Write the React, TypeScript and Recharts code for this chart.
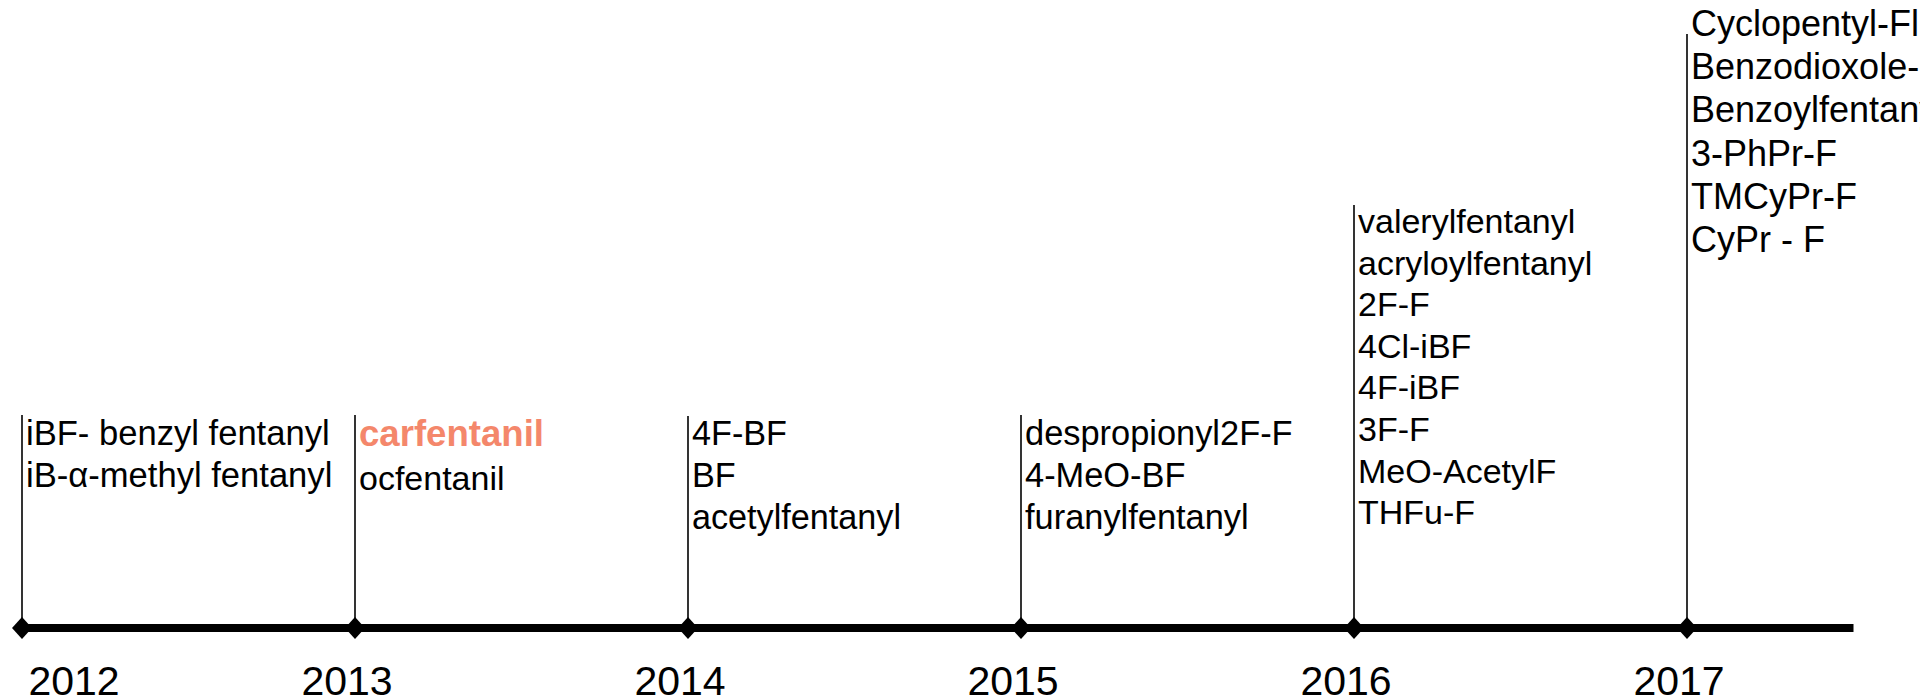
import React from 'react';
import { ComposedChart, XAxis, YAxis, Scatter, ReferenceLine } from 'recharts';

// ---- data ----
const years = [2012, 2013, 2014, 2015, 2016, 2017];
const axisEnd = 2017.5;
// stem heights (in px-units above the timeline)
const stemHeights = [213, 213, 212, 213, 423, 594];
// height of the first label line baseline above the timeline
const labelHeights = [183, 182, 183, 183, 395, 592];

const compounds2012 = ['iBF- benzyl fentanyl', 'iB-\u03B1-methyl fentanyl'];
const compounds2013 = ['carfentanil', 'ocfentanil'];
const compounds2014 = ['4F-BF', 'BF', 'acetylfentanyl'];
const compounds2015 = ['despropionyl2F-F', '4-MeO-BF', 'furanylfentanyl'];
const compounds2016 = [
  'valerylfentanyl',
  'acryloylfentanyl',
  '2F-F',
  '4Cl-iBF',
  '4F-iBF',
  '3F-F',
  'MeO-AcetylF',
  'THFu-F',
];
const compounds2017 = [
  'Cyclopentyl-Fl',
  'Benzodioxole-F',
  'Benzoylfentanyl',
  '3-PhPr-F',
  'TMCyPr-F',
  'CyPr - F',
];
const highlighted = ['carfentanil'];

const compoundsByYear = [
  compounds2012,
  compounds2013,
  compounds2014,
  compounds2015,
  compounds2016,
  compounds2017,
];

// ---- styles ----
const FONT = '"Liberation Sans", Arial, Helvetica, sans-serif';
const labelStyle = [
  { fontSize: 34.6, spacing: 42 },
  { fontSize: 34, spacing: 44 },
  { fontSize: 34.2, spacing: 41.8 },
  { fontSize: 34.4, spacing: 41.8 },
  { fontSize: 34, spacing: 41.6 },
  { fontSize: 36, spacing: 43.2 },
];
const HIGHLIGHT_COLOR = '#F4876B';

const markerData = years.map((yr) => ({ x: yr, y: 0 }));
const labelData = years.map((yr, i) => ({
  x: yr,
  y: labelHeights[i],
  lines: compoundsByYear[i],
  idx: i,
}));

const Diamond = (props: any) => {
  const { cx, cy } = props;
  if (cx == null || cy == null) return null;
  const w = 10;
  const h = 11;
  return (
    <polygon
      points={`${cx - w},${cy} ${cx},${cy - h} ${cx + w},${cy} ${cx},${cy + h}`}
      fill="#000"
    />
  );
};

const LabelBlock = (props: any) => {
  const { cx, cy, payload } = props;
  if (cx == null || cy == null || !payload) return null;
  const st = labelStyle[payload.idx];
  const tx = cx + 4;
  return (
    <text x={tx} y={cy} fontFamily={FONT} fontSize={st.fontSize} fill="#000">
      {payload.lines.map((line: string, i: number) => {
        const hl = highlighted.includes(line);
        return (
          <tspan
            key={i}
            x={tx}
            y={cy + i * st.spacing}
            fill={hl ? HIGHLIGHT_COLOR : '#000'}
            fontWeight={hl ? 'bold' : 'normal'}
            fontSize={hl ? 36.6 : st.fontSize}
          >
            {line}
          </tspan>
        );
      })}
    </text>
  );
};

const YearTick = (props: any) => {
  const { x, y, payload } = props;
  const cx = Math.max(x - 8, 74);
  return (
    <text
      x={cx}
      y={y + 67}
      textAnchor="middle"
      fontFamily={FONT}
      fontSize={41}
      fill="#000"
    >
      {payload.value}
    </text>
  );
};

export default function App() {
  return (
    <div
      style={{
        position: 'absolute',
        left: 0,
        top: 0,
        width: 1920,
        height: 699,
        overflow: 'hidden',
        background: '#fff',
      }}
    >
      <ComposedChart
        width={1920}
        height={699}
        margin={{ top: 0, right: 66.5, bottom: 0, left: 22 }}
      >
        <XAxis
          type="number"
          dataKey="x"
          domain={[2012, axisEnd]}
          ticks={years}
          axisLine={false}
          tickLine={false}
          tickSize={0}
          tickMargin={0}
          height={71}
          interval={0}
          tick={<YearTick />}
        />
        <YAxis type="number" dataKey="y" domain={[0, 628]} hide />
        {years.map((yr, i) => (
          <ReferenceLine
            key={`stem-${yr}`}
            segment={[
              { x: yr, y: 0 },
              { x: yr, y: stemHeights[i] },
            ]}
            stroke="#000"
            strokeWidth={1.6}
            ifOverflow="visible"
          />
        ))}
        <ReferenceLine
          segment={[
            { x: years[0], y: 0 },
            { x: axisEnd, y: 0 },
          ]}
          stroke="#000"
          strokeWidth={8}
          ifOverflow="visible"
        />
        <Scatter
          data={markerData}
          shape={<Diamond />}
          isAnimationActive={false}
        />
        <Scatter
          data={labelData}
          shape={<LabelBlock />}
          isAnimationActive={false}
        />
      </ComposedChart>
    </div>
  );
}
